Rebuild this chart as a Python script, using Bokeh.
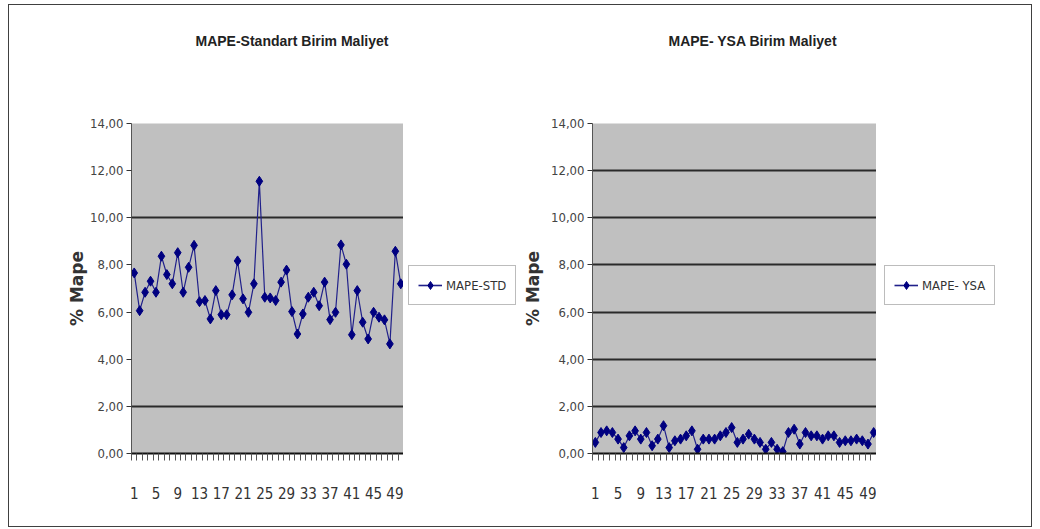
from bokeh.plotting import figure
from bokeh.models import FixedTicker, Legend, LegendItem, Title
from bokeh.layouts import row
from bokeh.embed import file_html
from bokeh.resources import INLINE

categories = list(range(1, 51))
mape_std = [7.66, 6.06, 6.84, 7.31, 6.84, 8.37, 7.59, 7.20, 8.52, 6.84,
            7.90, 8.83, 6.44, 6.49, 5.71, 6.91, 5.89, 5.89, 6.73, 8.17,
            6.56, 5.99, 7.20, 11.55, 6.63, 6.60, 6.49, 7.27, 7.78, 6.02,
            5.07, 5.92, 6.63, 6.84, 6.27, 7.27, 5.68, 5.99, 8.85, 8.03,
            5.04, 6.91, 5.57, 4.86, 5.99, 5.78, 5.67, 4.65, 8.58, 7.20]
mape_ysa = [0.47, 0.89, 0.96, 0.89, 0.61, 0.25, 0.75, 0.96, 0.61, 0.89,
            0.33, 0.61, 1.18, 0.25, 0.54, 0.61, 0.75, 0.96, 0.18, 0.61,
            0.61, 0.61, 0.75, 0.89, 1.10, 0.47, 0.61, 0.82, 0.61, 0.47,
            0.18, 0.47, 0.18, 0.08, 0.89, 1.03, 0.40, 0.89, 0.75, 0.75,
            0.61, 0.75, 0.75, 0.47, 0.54, 0.54, 0.61, 0.54, 0.40, 0.89]
x_tick_labels = [1, 5, 9, 13, 17, 21, 25, 29, 33, 37, 41, 45, 49]
y_ticks = [0, 2, 4, 6, 8, 10, 12, 14]
titles = ["MAPE-Standart Birim Maliyet", "MAPE- YSA Birim Maliyet"]
series_names = ["MAPE-STD", "MAPE- YSA"]
y_label = "% Mape"

NARROW = "'Liberation Sans Narrow', 'DejaVu Sans Condensed', 'Arial Narrow', sans-serif"
LINE_C = "#20208a"
MARK_C = "#000080"
H = 521


def make_chart(values, title, width, mb_left, grid_ticks, title_offset, label_standoff):
    p = figure(width=width, height=H, x_range=(0.5, 50.5), y_range=(0, 14),
               output_backend="svg", toolbar_location=None,
               min_border_left=mb_left, min_border_right=0,
               min_border_top=118, min_border_bottom=73)
    p.background_fill_color = "#c0c0c0"
    p.border_fill_color = "white"
    p.outline_line_color = None

    # blank gap between the title and the plot area
    p.add_layout(Title(text=" ", text_font_size="1px", standoff=72), "above")

    p.title.text = title
    p.title.align = "left"
    p.title.offset = title_offset
    p.title.standoff = 0
    p.title.text_font = "Liberation Sans"
    p.title.text_font_style = "bold"
    p.title.text_font_size = "14px"
    p.title.text_color = "#222222"

    p.xgrid.visible = False
    p.ygrid.ticker = FixedTicker(ticks=grid_ticks)
    p.ygrid.grid_line_color = "#2a2a2a"
    p.ygrid.grid_line_width = 2

    xa = p.xaxis[0]
    xa.ticker = FixedTicker(ticks=x_tick_labels,
                            minor_ticks=[c - 0.5 for c in categories] + [50.5])
    xa.major_tick_out = 0
    xa.major_tick_in = 0
    xa.minor_tick_out = 7
    xa.minor_tick_in = 0
    xa.minor_tick_line_color = "#555555"
    xa.axis_line_color = "#111111"
    xa.axis_line_width = 2
    xa.major_label_standoff = 26
    xa.major_label_text_font = NARROW
    xa.major_label_text_font_size = "15px"
    xa.major_label_text_color = "#333333"

    ya = p.yaxis[0]
    ya.ticker = FixedTicker(ticks=y_ticks)
    ya.major_label_overrides = {t: f"{t:.2f}".replace(".", ",") for t in y_ticks}
    ya.major_tick_out = 5
    ya.major_tick_in = 0
    ya.minor_tick_out = 0
    ya.major_tick_line_color = "#333333"
    ya.axis_line_color = "#555555"
    ya.major_label_standoff = 3
    ya.major_label_text_font = NARROW
    ya.major_label_text_font_size = "13px"
    ya.major_label_text_color = "#444444"
    ya.axis_label = y_label
    ya.axis_label_text_font = "DejaVu Sans"
    ya.axis_label_text_font_style = "bold"
    ya.axis_label_text_font_size = "17px"
    ya.axis_label_text_color = "#333333"
    ya.axis_label_standoff = label_standoff

    p.line(categories, values, line_color=LINE_C, line_width=1.2)
    p.scatter(categories, values, marker="diamond", size=10,
              fill_color=MARK_C, line_color=MARK_C)
    return p


def make_legend_panel(values, name, width, left_gap):
    # the series is drawn out of view; only its legend entry is visible
    q = figure(width=width, height=H, x_range=(100, 101), y_range=(100, 101),
               output_backend="svg", toolbar_location=None,
               x_axis_location=None, y_axis_location=None,
               min_border=0)
    q.outline_line_color = None
    q.grid.visible = False
    q.border_fill_color = "white"
    q.background_fill_color = "white"
    ln = q.line(categories, values, line_color=LINE_C, line_width=1.6)
    sc = q.scatter(categories, values, marker="diamond", size=10,
                   fill_color=MARK_C, line_color=MARK_C)
    legend = Legend(items=[LegendItem(label=name, renderers=[ln, sc])],
                    location=(left_gap, 148),
                    padding=9, margin=0, spacing=0,
                    glyph_width=24, glyph_height=20, label_standoff=4,
                    label_text_font=NARROW, label_text_font_size="13px",
                    label_text_color="#333333",
                    border_line_color="#7a7a7a", border_line_width=1,
                    background_fill_color="white", background_fill_alpha=1)
    q.add_layout(legend)
    return q


p1 = make_chart(mape_std, titles[0], 394, 122, [2, 10, 14], 64, 0)
l1 = make_legend_panel(mape_std, series_names[0], 116, 5)
p2 = make_chart(mape_ysa, titles[1], 357, 73, [2, 4, 6, 8, 10, 12, 14], 76, 5)
l2 = make_legend_panel(mape_ysa, series_names[1], 155, 8)

layout = row(p1, l1, p2, l2, margin=(4, 0, 0, 8),
             styles={"border": "1px solid #404040"})

open("out.html", "w").write(file_html(layout, INLINE))
